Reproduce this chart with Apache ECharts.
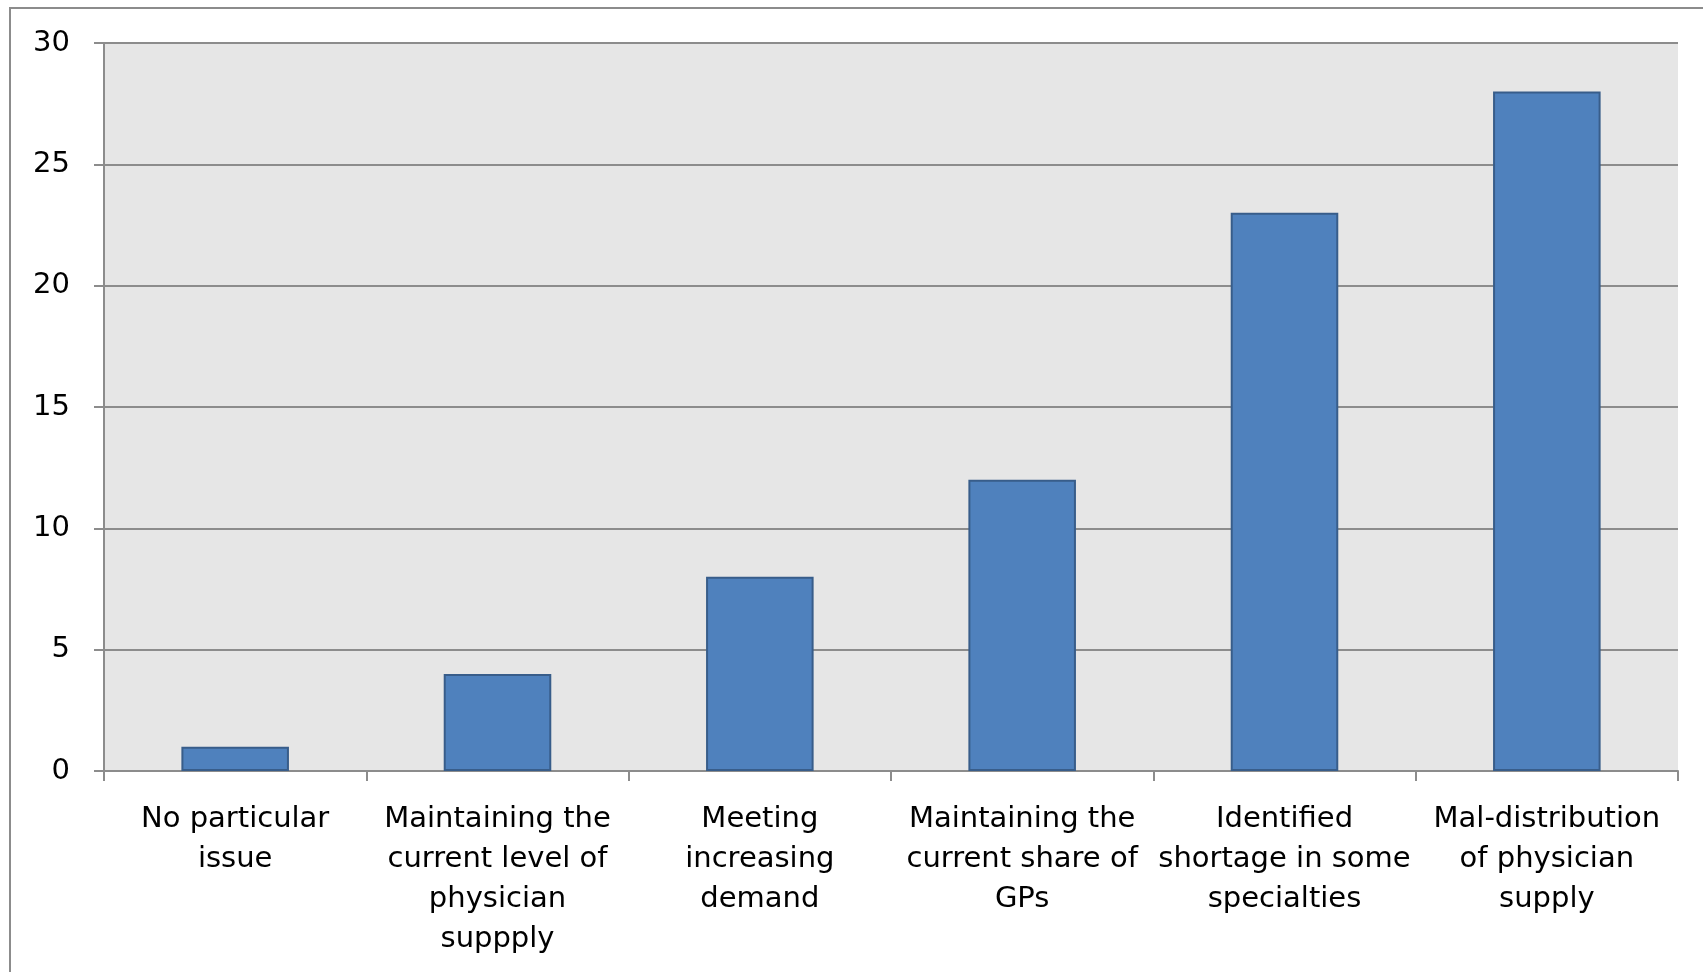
<!DOCTYPE html>
<html>
<head>
<meta charset="utf-8">
<script src="https://cdn.jsdelivr.net/npm/echarts@6/dist/echarts.min.js"></script>
<style>
  html, body { margin: 0; padding: 0; background: #ffffff; }
  #chart { width: 1703px; height: 972px; }
</style>
</head>
<body>
<div id="chart"></div>
<script>
  // categories (x axis) and counts
  var categories = [
    'No particular\nissue',
    'Maintaining the\ncurrent level of\nphysician\nsuppply',
    'Meeting\nincreasing\ndemand',
    'Maintaining the\ncurrent share of\nGPs',
    'Identified\nshortage in some\nspecialties',
    'Mal-distribution\nof physician\nsupply'
  ];
  var counts = [1, 4, 8, 12, 23, 28];
  var yTicks = [0, 5, 10, 15, 20, 25, 30];

  var chart = echarts.init(document.getElementById('chart'));

  var option = {
    animation: false,
    textStyle: { fontFamily: 'DejaVu Sans' },
    // frame of the slide around the chart
    graphic: [{
      type: 'polyline',
      shape: { points: [[10, 980], [10, 8], [1710, 8]] },
      style: { stroke: '#8c8c8c', lineWidth: 2, fill: null }
    }],
    grid: {
      left: 104,
      right: 25,
      top: 43,
      bottom: 201,
      show: true,
      backgroundColor: '#e6e6e6',
      borderWidth: 0
    },
    xAxis: {
      type: 'category',
      data: categories,
      axisLine: { lineStyle: { color: '#8c8c8c', width: 2 } },
      axisTick: { show: true, length: 10, lineStyle: { color: '#8c8c8c', width: 2 } },
      axisLabel: {
        color: '#000',
        fontSize: 29,
        lineHeight: 40,
        margin: 28,
        interval: 0
      }
    },
    yAxis: {
      type: 'value',
      min: yTicks[0],
      max: yTicks[yTicks.length - 1],
      interval: 5,
      axisLine: { show: true, lineStyle: { color: '#8c8c8c', width: 2 } },
      axisTick: { show: true, length: 10, lineStyle: { color: '#8c8c8c', width: 2 } },
      splitLine: { lineStyle: { color: '#8c8c8c', width: 2 } },
      axisLabel: { color: '#000', fontSize: 29, margin: 34 }
    },
    series: [{
      type: 'bar',
      data: counts,
      barCategoryGap: '59%',
      itemStyle: {
        color: '#4f81bd',
        borderColor: '#385d8a',
        borderWidth: 2
      }
    }]
  };

  chart.setOption(option);
</script>
</body>
</html>
